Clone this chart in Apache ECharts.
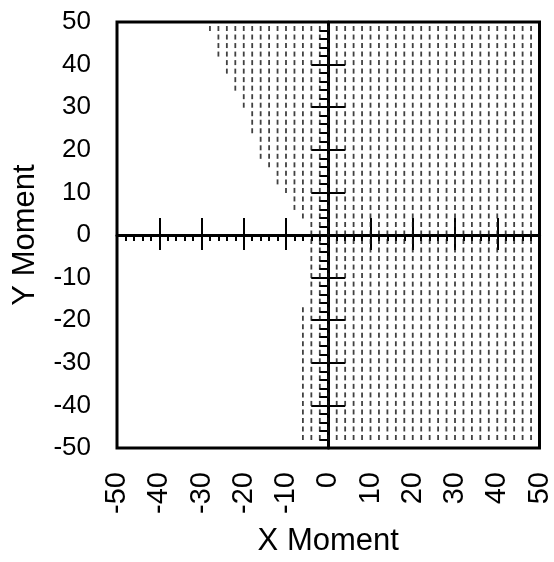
<!DOCTYPE html>
<html>
<head>
<meta charset="utf-8">
<script src="https://cdn.jsdelivr.net/npm/echarts@6/dist/echarts.min.js"></script>
<style>
html,body{margin:0;padding:0;background:#fff;}
#chart{width:554px;height:562px;}
</style>
</head>
<body>
<div id="chart"></div>
<script>
// Tick values
const xTicks = [-50, -40, -30, -20, -10, 0, 10, 20, 30, 40, 50];
const yTicks = [-50, -40, -30, -20, -10, 0, 10, 20, 30, 40, 50];
// Hatch grid: column positions (X Moment) of the dash marks
const colX = [-28, -26, -24, -22, -20, -18, -16, -14, -12, -10, -8, -6, -4, -2, 0,
  2, 4, 6, 8, 10, 12, 14, 16, 18, 20, 22, 24, 26, 28, 30, 32, 34, 36, 38, 40, 42, 44, 46, 48];
// Row positions (Y Moment) of the dash marks
const rowY = [48, 46, 44, 42, 40, 38, 36, 34, 32, 30, 28, 26, 24, 22, 20, 18, 16, 14, 12, 10, 8, 6, 4, 2, 0,
  -2, -4, -6, -8, -10, -12, -14, -16,
  -18, -20, -22, -24, -26, -28, -30, -32, -34, -36, -38, -40, -42, -44, -46, -48];
// Left boundary (smallest X Moment hatched) for each row
const rowXMin = [-28, -26, -26, -26, -24, -24, -22, -22, -20, -20, -18, -18, -18, -16, -16, -16, -14, -12, -12, -10, -8, -8, -6, -4, -4,
  -4, -4, -4, -4, -4, -4, -4, -4,
  -6, -6, -6, -6, -6, -6, -6, -6, -6, -6, -6, -6, -6, -6, -6, -6];

const hatch = [];
rowY.forEach(function (y, i) {
  colX.forEach(function (x) {
    if (x >= rowXMin[i]) hatch.push([x, y]);
  });
});

const FONT = 'Liberation Sans, Arial, Helvetica, sans-serif';
const base = { type: 'value', min: -50, max: 50, interval: 10, splitLine: { show: false } };

const chart = echarts.init(document.getElementById('chart'), null, { renderer: 'canvas' });
chart.setOption({
  animation: false,
  backgroundColor: '#fff',
  grid: { left: 117, right: 13, top: 22, bottom: 114, show: true, borderColor: '#000', borderWidth: 3 },
  xAxis: [
    Object.assign({}, base, {
      position: 'bottom',
      axisLine: { show: false, onZero: false },
      axisTick: { show: false },
      axisLabel: { rotate: 90, margin: 24, fontSize: 29, color: '#000', fontFamily: FONT,
        customValues: xTicks },
      name: 'X Moment', nameLocation: 'middle', nameGap: 78,
      nameTextStyle: { fontSize: 31, color: '#000', fontFamily: FONT }
    }),
    Object.assign({}, base, {
      position: 'bottom',
      axisLine: { show: true, onZero: true, onZeroAxisIndex: 0, lineStyle: { color: '#000', width: 3 } },
      axisTick: { show: true, inside: true, length: 17, lineStyle: { color: '#000', width: 2 } },
      axisLabel: { show: false }
    }),
    Object.assign({}, base, {
      position: 'bottom',
      axisLine: { show: false, onZero: true, onZeroAxisIndex: 0 },
      axisTick: { show: true, inside: false, length: 15, lineStyle: { color: '#000', width: 2 } },
      minorTick: { show: true, splitNumber: 5, length: 6, lineStyle: { color: '#000', width: 2 } },
      axisLabel: { show: false }
    })
  ],
  yAxis: [
    Object.assign({}, base, {
      position: 'left',
      axisLine: { show: false, onZero: false },
      axisTick: { show: false },
      axisLabel: { margin: 26, fontSize: 26, color: '#000', fontFamily: FONT, customValues: yTicks },
      name: 'Y Moment', nameLocation: 'middle', nameRotate: 90, nameGap: 76,
      nameTextStyle: { fontSize: 31, color: '#000', fontFamily: FONT }
    }),
    Object.assign({}, base, {
      position: 'left',
      axisLine: { show: true, onZero: true, onZeroAxisIndex: 0, lineStyle: { color: '#000', width: 3 } },
      axisTick: { show: true, inside: true, length: 17, lineStyle: { color: '#000', width: 2 } },
      axisLabel: { show: false }
    }),
    Object.assign({}, base, {
      position: 'left',
      axisLine: { show: false, onZero: true, onZeroAxisIndex: 0 },
      axisTick: { show: true, inside: false, length: 17, lineStyle: { color: '#000', width: 2 } },
      minorTick: { show: true, splitNumber: 5, length: 9, lineStyle: { color: '#000', width: 2 } },
      axisLabel: { show: false }
    })
  ],
  series: [{
    type: 'scatter',
    xAxisIndex: 0,
    yAxisIndex: 0,
    data: hatch,
    symbol: 'rect',
    symbolSize: [1.8, 5],
    symbolOffset: [0, -2],
    itemStyle: { color: '#111' },
    silent: true,
    z: 1
  }]
});
</script>
</body>
</html>
